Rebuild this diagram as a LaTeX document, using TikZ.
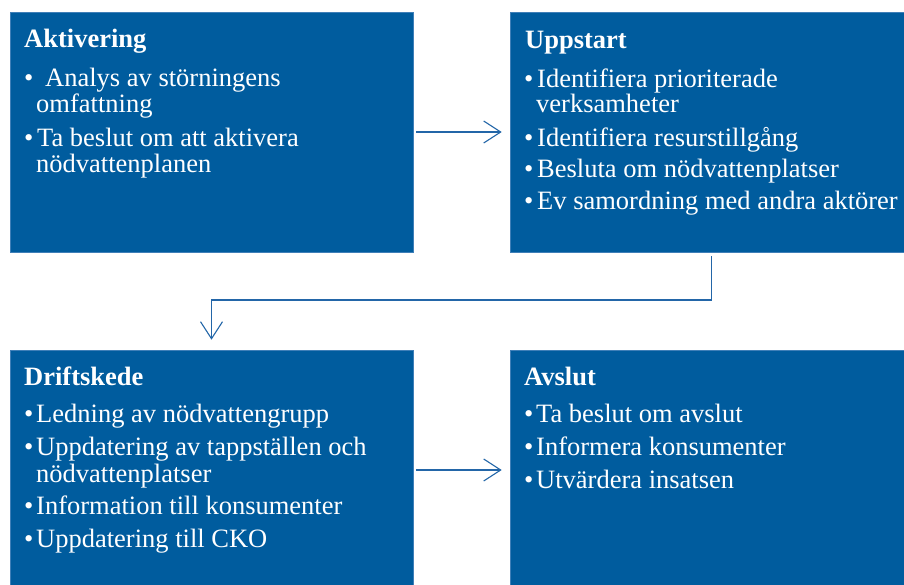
\documentclass[tikz,border=0pt]{standalone}
\usepackage{fontspec}
\setmainfont{Liberation Serif}
\usetikzlibrary{arrows.meta}
\definecolor{boxblue}{HTML}{005C9E}
\definecolor{boxedge}{HTML}{3F7FB8}
\definecolor{linkblue}{HTML}{2366A8}
\tikzset{
  phase/.style={fill=boxblue, draw=boxedge, line width=0.6pt, minimum width=403pt, minimum height=240pt, inner sep=0pt},
  ttl/.style={anchor=base west, inner sep=0pt, text=white, font=\fontsize{26.5}{26.5}\selectfont\bfseries},
  ln/.style={anchor=base west, inner sep=0pt, text=white, font=\fontsize{26.5}{26.5}\selectfont},
  link/.style={draw=linkblue, line width=1.1pt},
  tip/.style={-{Straight Barb[length=17pt,width=22pt]}},
}
\begin{document}
\begin{tikzpicture}[x=1pt, y=-1pt]
\clip (0,0) rectangle (904,584);
\fill[white] (0,0) rectangle (904,584);
% boxes
\node[phase] (akt) at (211.5,132) {};
\node[phase] (upp) at (711.5,132) {};
\node[phase] (drift) at (211.5,470) {};
\node[phase] (avs) at (711.5,470) {};
% Aktivering
\node[ttl] (aktT) at (24,47) {Aktivering};
\node[ln] (akt1b) at (24,86) {•};
\node[ln] (akt1) at (45,86) {Analys av störningens};
\node[ln] (akt1c) at (36,112) {omfattning};
\node[ln] (akt2b) at (24,146) {•};
\node[ln] (akt2) at (37,146) {Ta beslut om att aktivera};
\node[ln] (akt2c) at (36,172) {nödvattenplanen};
% Uppstart
\node[ttl] (uppT) at (525,48) {Uppstart};
\node[ln] (upp1b) at (524,87) {•};
\node[ln] (upp1) at (537,87) {Identifiera prioriterade};
\node[ln] (upp1c) at (536,112) {verksamheter};
\node[ln] (upp2b) at (524,146) {•};
\node[ln] (upp2) at (537,146) {Identifiera resurstillgång};
\node[ln] (upp3b) at (524,177.5) {•};
\node[ln] (upp3) at (537,177.5) {Besluta om nödvattenplatser};
\node[ln] (upp4b) at (524,209) {•};
\node[ln] (upp4) at (537,209) {Ev samordning med andra aktörer};
% Driftskede
\node[ttl] (driftT) at (24,385) {Driftskede};
\node[ln] (drift1b) at (24,422) {•};
\node[ln] (drift1) at (36,422) {Ledning av nödvattengrupp};
\node[ln] (drift2b) at (24,455) {•};
\node[ln] (drift2) at (36,455) {Uppdatering av tappställen och};
\node[ln] (drift2c) at (36,482) {nödvattenplatser};
\node[ln] (drift3b) at (24,514) {•};
\node[ln] (drift3) at (36,514) {Information till konsumenter};
\node[ln] (drift4b) at (24,547) {•};
\node[ln] (drift4) at (36,547) {Uppdatering till CKO};
% Avslut
\node[ttl] (avsT) at (524,385) {Avslut};
\node[ln] (avs1b) at (524,422) {•};
\node[ln] (avs1) at (536,422) {Ta beslut om avslut};
\node[ln] (avs2b) at (524,455) {•};
\node[ln] (avs2) at (536,455) {Informera konsumenter};
\node[ln] (avs3b) at (524,488) {•};
\node[ln] (avs3) at (536,488) {Utvärdera insatsen};
% connectors
\draw[link, tip, shorten <=3pt, shorten >=8pt] (akt) -- (upp);
\draw[link, tip, shorten <=3pt, shorten >=8pt] (drift) -- (avs);
\coordinate (bend) at (0,300);
\draw[link, tip, shorten <=4pt, shorten >=10pt] (upp.south) -- (upp.south |- bend) -- (drift.north |- bend) -- (drift.north);
\end{tikzpicture}
\end{document}
